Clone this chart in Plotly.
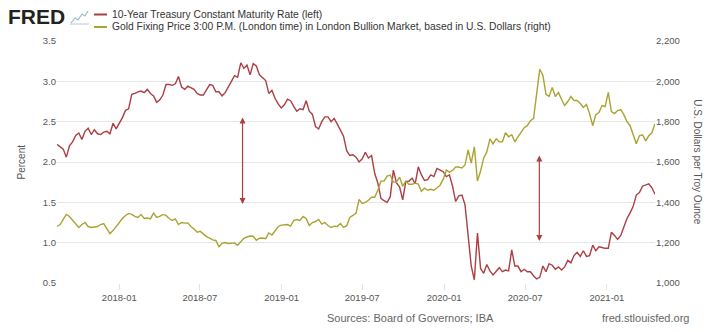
import pandas as pd
import plotly.graph_objects as go

# ---------------- data (weekly readings, Mondays) ----------------
rate_start = "2017-08-14"
rate_values = [
    # 2017
    2.22, 2.19, 2.16, 2.06, 2.20, 2.25, 2.33, 2.36, 2.28, 2.38, 2.42, 2.34, 2.40, 2.35, 2.34, 2.37, 2.38, 2.35, 2.48, 2.41,
    # 2018
    2.48, 2.55, 2.64, 2.66, 2.84, 2.85, 2.87, 2.88, 2.86, 2.90, 2.85, 2.82, 2.74,
    2.77, 2.83, 2.96, 2.96, 2.95, 2.97, 3.06, 2.93, 2.90, 2.94, 2.92, 2.90, 2.85,
    2.83, 2.83, 2.89, 2.96, 2.95, 2.87, 2.87, 2.82, 2.86, 2.94, 3.00, 3.07, 3.05,
    3.23, 3.16, 3.20, 3.08, 3.22, 3.19, 3.08, 3.04, 3.01, 2.85, 2.89, 2.79, 2.72, 2.67,
    # 2019
    2.71, 2.78, 2.76, 2.69, 2.63, 2.66, 2.65, 2.76, 2.63, 2.59, 2.44, 2.41,
    2.50, 2.56, 2.56, 2.50, 2.54, 2.47, 2.39, 2.32, 2.14, 2.08, 2.09, 2.06, 2.00,
    2.04, 2.12, 2.05, 2.08, 1.86, 1.74, 1.55, 1.52, 1.50, 1.57, 1.90, 1.74, 1.69, 1.53,
    1.76, 1.76, 1.80, 1.73, 1.94, 1.84, 1.77, 1.78, 1.84, 1.82, 1.92, 1.90, 1.88,
    # 2020
    1.82, 1.84, 1.70, 1.51, 1.58, 1.59, 1.47, 1.13, 0.71, 0.54, 1.12, 0.68, 0.62,
    0.73, 0.65, 0.60, 0.64, 0.69, 0.64, 0.66, 0.65, 0.91, 0.71, 0.71, 0.64, 0.67,
    0.64, 0.64, 0.59, 0.55, 0.57, 0.71, 0.64, 0.74, 0.72, 0.67, 0.70, 0.66, 0.70,
    0.78, 0.75, 0.84, 0.88, 0.83, 0.90, 0.83, 0.84, 0.97, 0.90, 0.95, 0.94, 0.93,
    # 2021
    0.93, 1.13, 1.09, 1.04, 1.09, 1.19, 1.30, 1.37, 1.45, 1.59, 1.62, 1.70, 1.72,
    1.73, 1.68, 1.60,
]

gold_start = "2017-08-14"
gold_values = [
    # 2017
    1280, 1290, 1315, 1340, 1330, 1310, 1295, 1275, 1290, 1300, 1280, 1275, 1278, 1280, 1290, 1295, 1270, 1245, 1260, 1280,
    # 2018
    1305, 1320, 1335, 1345, 1340, 1330, 1325, 1340, 1320, 1322, 1318, 1347, 1325,
    1330, 1340, 1335, 1320, 1310, 1318, 1290, 1300, 1297, 1298, 1280, 1268, 1252,
    1256, 1242, 1230, 1223, 1214, 1211, 1180, 1197, 1201, 1196, 1196, 1199, 1187,
    1203, 1222, 1228, 1233, 1232, 1212, 1222, 1223, 1220, 1248, 1238, 1258, 1279, 1287,
    # 2019
    1287, 1290, 1282, 1310, 1315, 1310, 1330, 1320, 1285, 1300, 1305, 1315,
    1292, 1300, 1285, 1275, 1282, 1280, 1295, 1276, 1284, 1325, 1335, 1345, 1415,
    1395, 1400, 1410, 1425, 1425, 1460, 1505, 1505, 1530, 1535, 1500, 1500, 1525, 1480,
    1505, 1490, 1490, 1495, 1490, 1455, 1470, 1460, 1465, 1460, 1475, 1485, 1515,
    # 2020
    1560, 1550, 1558, 1575, 1575, 1570, 1585, 1660, 1595, 1675, 1505, 1555, 1620,
    1650, 1715, 1690, 1715, 1700, 1700, 1745, 1725, 1735, 1700, 1725, 1750, 1770,
    1780, 1805, 1815, 1940, 2060, 2030, 1935, 1925, 1970, 1925, 1945, 1910, 1880,
    1900, 1925, 1905, 1905, 1890, 1870, 1885, 1840, 1780, 1835, 1845, 1880, 1875,
    # 2021
    1945, 1850, 1840, 1855, 1860, 1835, 1800, 1780, 1730, 1690, 1730, 1735, 1705,
    1730, 1745, 1790,
]

x_tick_vals = ["2018-01-01", "2018-07-01", "2019-01-01", "2019-07-01",
               "2020-01-01", "2020-07-01", "2021-01-01"]
x_tick_labels = ["2018-01", "2018-07", "2019-01", "2019-07",
                 "2020-01", "2020-07", "2021-01"]
left_ticks = [0.5, 1.0, 1.5, 2.0, 2.5, 3.0, 3.5]
right_ticks = [1000, 1200, 1400, 1600, 1800, 2000, 2200]

# annotation arrows: (date, low value, high value) on left axis
arrows = [("2018-10-05", 1.48, 2.57), ("2020-08-02", 1.02, 2.10)]

rate_name = "10-Year Treasury Constant Maturity Rate (left)"
gold_name = "Gold Fixing Price 3:00 P.M. (London time) in London Bullion Market, based in U.S. Dollars (right)"

RED = "#ab3f44"
GOLD = "#aaa332"
FONT = "Liberation Sans, Arial, sans-serif"

rate_dates = pd.date_range(rate_start, periods=len(rate_values), freq="7D")
gold_dates = pd.date_range(gold_start, periods=len(gold_values), freq="7D")

fig = go.Figure()
fig.add_trace(go.Scatter(x=gold_dates, y=gold_values, yaxis="y2", mode="lines",
                         line=dict(color=GOLD, width=1.4), name=gold_name))
fig.add_trace(go.Scatter(x=rate_dates, y=rate_values, mode="lines",
                         line=dict(color=RED, width=1.4), name=rate_name))

for d, lo, hi in arrows:
    fig.add_annotation(x=d, y=lo, ax=d, ay=hi, xref="x", yref="y", axref="x", ayref="y",
                       showarrow=True, arrowhead=2, arrowside="end+start", arrowsize=1,
                       arrowwidth=1.2, arrowcolor=RED, text="")

x0 = rate_dates[0]
x1 = rate_dates[-1]

fig.update_layout(
    width=719, height=332,
    margin=dict(l=57, r=64, t=41, b=49),
    paper_bgcolor="white", plot_bgcolor="white",
    showlegend=False,
    font=dict(family=FONT, size=10, color="#555"),
    xaxis=dict(range=[x0, x1], tickvals=x_tick_vals, ticktext=x_tick_labels,
               showgrid=False, showline=False, zeroline=False,
               ticks="outside", ticklen=6, tickcolor="#e3e3e3",
               tickfont=dict(size=9.5, color="#555")),
    yaxis=dict(range=[0.5, 3.5], tickvals=left_ticks,
               ticktext=[f"{v:.1f}" for v in left_ticks],
               showgrid=True, gridcolor="#e6e6e6", gridwidth=1, zeroline=False,
               showline=False, ticks="", tickfont=dict(size=9.5, color="#555")),
    yaxis2=dict(range=[1000, 2200], tickvals=right_ticks,
                ticktext=[f"{v:,}" for v in right_ticks],
                overlaying="y", side="right", showgrid=False, zeroline=False,
                showline=False, ticks="", tickfont=dict(size=9.5, color="#555")),
)

# axis titles
fig.add_annotation(text="Percent", xref="paper", yref="paper", x=-0.072, y=0.5,
                   textangle=-90, showarrow=False, font=dict(size=10, color="#555"))
fig.add_annotation(text="U.S. Dollars per Troy Ounce", xref="paper", yref="paper",
                   x=1.084, y=0.5, textangle=90, showarrow=False,
                   font=dict(size=10, color="#555"))

# header: FRED logo + legend
def px_x(px):
    return (px - 57) / 598

def px_y(py):
    return (283 - py) / 242

fig.add_annotation(text="<b>FRED</b>", xref="paper", yref="paper", x=px_x(6), y=px_y(16),
                   xanchor="left", yanchor="middle", showarrow=False,
                   font=dict(family="Liberation Sans, Arial", size=21, color="#222"))
# small chart icon
fig.add_shape(type="path", xref="paper", yref="paper",
              path=(f"M {px_x(71)} {px_y(23)} L {px_x(75)} {px_y(18)} L {px_x(78)} {px_y(20)} "
                    f"L {px_x(82)} {px_y(14)} L {px_x(85)} {px_y(16)} L {px_x(88)} {px_y(11)}"),
              line=dict(color="#9fb6c8", width=1.2))
fig.add_shape(type="line", xref="paper", yref="paper", x0=px_x(70), x1=px_x(89),
              y0=px_y(24), y1=px_y(24), line=dict(color="#b8c7d3", width=1))

for label, color, py in [(rate_name, RED, 14.5), (gold_name, GOLD, 27)]:
    fig.add_shape(type="line", xref="paper", yref="paper", x0=px_x(94), x1=px_x(107),
                  y0=px_y(py), y1=px_y(py), line=dict(color=color, width=2))
    fig.add_annotation(text=label, xref="paper", yref="paper", x=px_x(110), y=px_y(py),
                       xanchor="left", yanchor="middle", showarrow=False,
                       font=dict(size=10.3, color="#333"))

# footer
fig.add_annotation(text="Sources: Board of Governors; IBA", xref="paper", yref="paper",
                   x=px_x(410), y=px_y(318), xanchor="center", yanchor="middle",
                   showarrow=False, font=dict(size=11, color="#666"))
fig.add_annotation(text="fred.stlouisfed.org", xref="paper", yref="paper",
                   x=px_x(691), y=px_y(318), xanchor="right", yanchor="middle",
                   showarrow=False, font=dict(size=11, color="#666"))

fig.write_html("out.html")
